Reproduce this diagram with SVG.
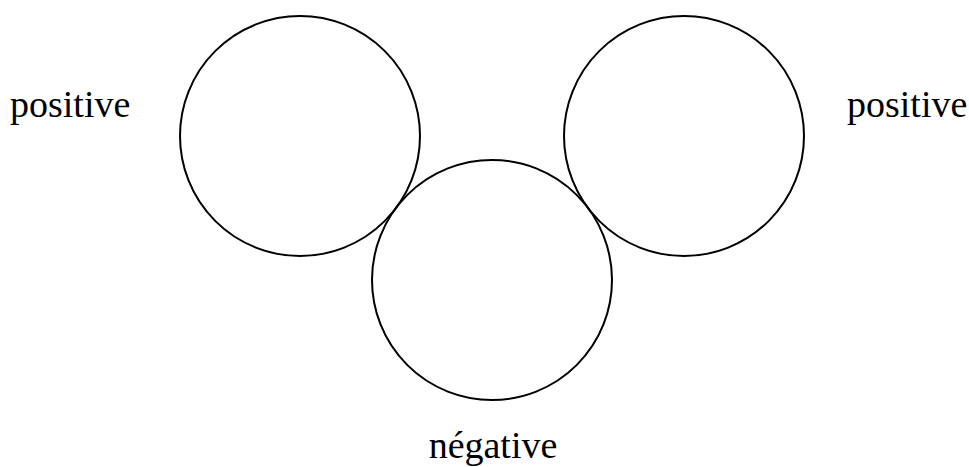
<svg xmlns="http://www.w3.org/2000/svg" width="969" height="467" viewBox="0 0 969 467">
<style>
.c{fill:none;stroke:#000;stroke-width:2}
.t{font-family:"Liberation Serif","Times New Roman",serif;font-size:38px;fill:#000}
</style>
<rect width="969" height="467" fill="#fff"/>
<g id="left"><circle class="c" cx="300" cy="136" r="120"/><text class="t" x="10" y="117">positive</text></g>
<g id="right"><circle class="c" cx="684" cy="136" r="120"/><text class="t" x="847" y="117">positive</text></g>
<g id="bottom"><circle class="c" cx="492" cy="280" r="120"/><text class="t" x="493" y="458" text-anchor="middle">négative</text></g>
<g id="connectors"/>
</svg>
